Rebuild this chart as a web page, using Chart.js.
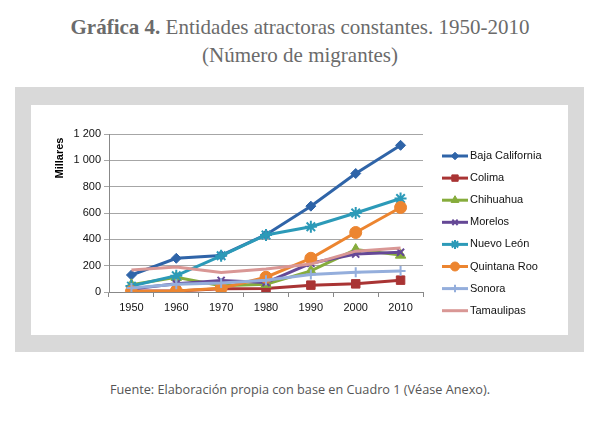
<!DOCTYPE html>
<html><head><meta charset="utf-8">
<script src="https://cdn.jsdelivr.net/npm/chart.js@4"></script>
<style>
html,body{margin:0;padding:0;background:#fff;width:600px;height:428px;overflow:hidden;position:relative;}
#t1,#t2{position:absolute;left:0;width:600px;text-align:center;font-family:"Liberation Serif",serif;font-size:21px;color:#6b6b6b;line-height:24px;}
#t1{top:15px}
#t2{top:43px}
#gray{position:absolute;left:15px;top:87px;width:569px;height:265px;background:#d9d9d9;}
#white{position:absolute;left:31px;top:105px;width:537px;height:230px;background:#fff;}
#src{position:absolute;left:0;top:380px;width:600px;text-align:center;font-family:"Open Sans",sans-serif;font-size:12.7px;color:#555;line-height:18px;}
canvas{position:absolute;left:0;top:0;}
</style></head><body>
<div id="t1"><b>Gráfica 4.</b> Entidades atractoras constantes. 1950-2010</div>
<div id="t2">(Número de migrantes)</div>
<div id="gray"></div><div id="white"></div>
<div id="src">Fuente: Elaboración propia con base en Cuadro 1 (Véase Anexo).</div>
<canvas id="c" width="600" height="428"></canvas>
<script>
const years = ["1950","1960","1970","1980","1990","2000","2010"];
const bajaCalifornia = [129, 256, 278, 435, 652, 900, 1114];
const colima = [8, 8, 24, 26, 52, 62, 90];
const chihuahua = [55, 111, 48, 58, 160, 322, 280];
const morelos = [22, 63, 88, 72, 218, 288, 302];
const nuevoLeon = [45, 124, 275, 433, 496, 600, 710];
const quintanaRoo = [4, 8, 28, 112, 256, 452, 642];
const sonora = [30, 58, 68, 90, 132, 150, 160];
const tamaulipas = [168, 190, 148, 175, 212, 310, 335];
const yTicks = [0, 200, 400, 600, 800, 1000, 1200];

function ds(label, data, color, style, r){
  return {label, data, borderColor:color, backgroundColor:color, pointStyle:style,
    pointRadius:r, pointBorderWidth: (style==='cross'||style==='crossRot'||style==='star')?2:1,
    borderWidth:3, tension:0};
}
const datasets = [
  ds("Tamaulipas", tamaulipas, "#d99795", false, 0),
  ds("Sonora", sonora, "#94aedc", "cross", 5),
  ds("Quintana Roo", quintanaRoo, "#ec8530", "circle", 6),
  ds("Nuevo León", nuevoLeon, "#2c9ab8", "star", 6),
  ds("Morelos", morelos, "#654896", "crossRot", 5),
  ds("Chihuahua", chihuahua, "#86ac3c", "triangle", 6),
  ds("Colima", colima, "#a93434", "rect", 6),
  ds("Baja California", bajaCalifornia, "#2f64a8", "rectRot", 5),
];
const legendOrder = ["Baja California","Colima","Chihuahua","Morelos","Nuevo León","Quintana Roo","Sonora","Tamaulipas"];

const extras = {
  id:'extras',
  afterDraw(chart){
    const ctx = chart.ctx;
    ctx.save();
    ctx.translate(60,158);
    ctx.rotate(-Math.PI/2);
    ctx.font = "bold 11px 'Liberation Sans', sans-serif";
    ctx.fillStyle = "#000";
    ctx.textAlign = "center"; ctx.textBaseline = "middle";
    ctx.fillText("Millares",0,0);
    ctx.restore();
    ctx.save();
    legendOrder.forEach((name,i)=>{
      const d = chart.data.datasets.find(x=>x.label===name);
      const y = 156 + i*22.1;
      ctx.strokeStyle = d.borderColor; ctx.lineWidth = 3;
      ctx.beginPath(); ctx.moveTo(442,y); ctx.lineTo(468,y); ctx.stroke();
      if (d.pointStyle){
        ctx.fillStyle = d.backgroundColor; ctx.strokeStyle = d.borderColor; ctx.lineWidth = d.pointBorderWidth;
        Chart.helpers.drawPoint(ctx, {pointStyle:d.pointStyle, radius:d.pointRadius*0.75, borderWidth:d.pointBorderWidth, rotation:0}, 455, y);
      }
      ctx.fillStyle = "#111";
      ctx.font = "11px 'Liberation Sans', sans-serif";
      ctx.textAlign = "left"; ctx.textBaseline = "middle";
      ctx.fillText(name, 470, y);
    });
    ctx.restore();
  }
};

new Chart(document.getElementById('c'), {
  type:'line',
  data:{labels:years, datasets},
  plugins:[extras],
  options:{
    responsive:false, animation:false,
    layout:{padding:{left:40, top:134, right:177, bottom:106}},
    plugins:{legend:{display:false}, tooltip:{enabled:false}},
    scales:{
      x:{
        offset:true,
        afterFit(s){ s.height = 30; },
        grid:{offset:true, drawOnChartArea:false, drawTicks:true, tickLength:5, color:'#888'},
        border:{color:'#888'},
        ticks:{color:'#111', font:{family:"'Liberation Sans', sans-serif", size:11}, padding:4}
      },
      y:{
        min:0, max:1200,
        afterFit(s){ s.width = 69; },
        afterBuildTicks(s){ s.ticks = yTicks.map(v=>({value:v})); },
        grid:{color:'#a6a6a6', tickLength:5, drawTicks:true},
        border:{color:'#888'},
        ticks:{color:'#111', font:{family:"'Liberation Sans', sans-serif", size:11}, padding:3,
          callback:v=> v>=1000 ? Math.floor(v/1000)+" "+String(v%1000).padStart(3,'0') : String(v)}
      }
    }
  }
});
</script>
</body></html>
